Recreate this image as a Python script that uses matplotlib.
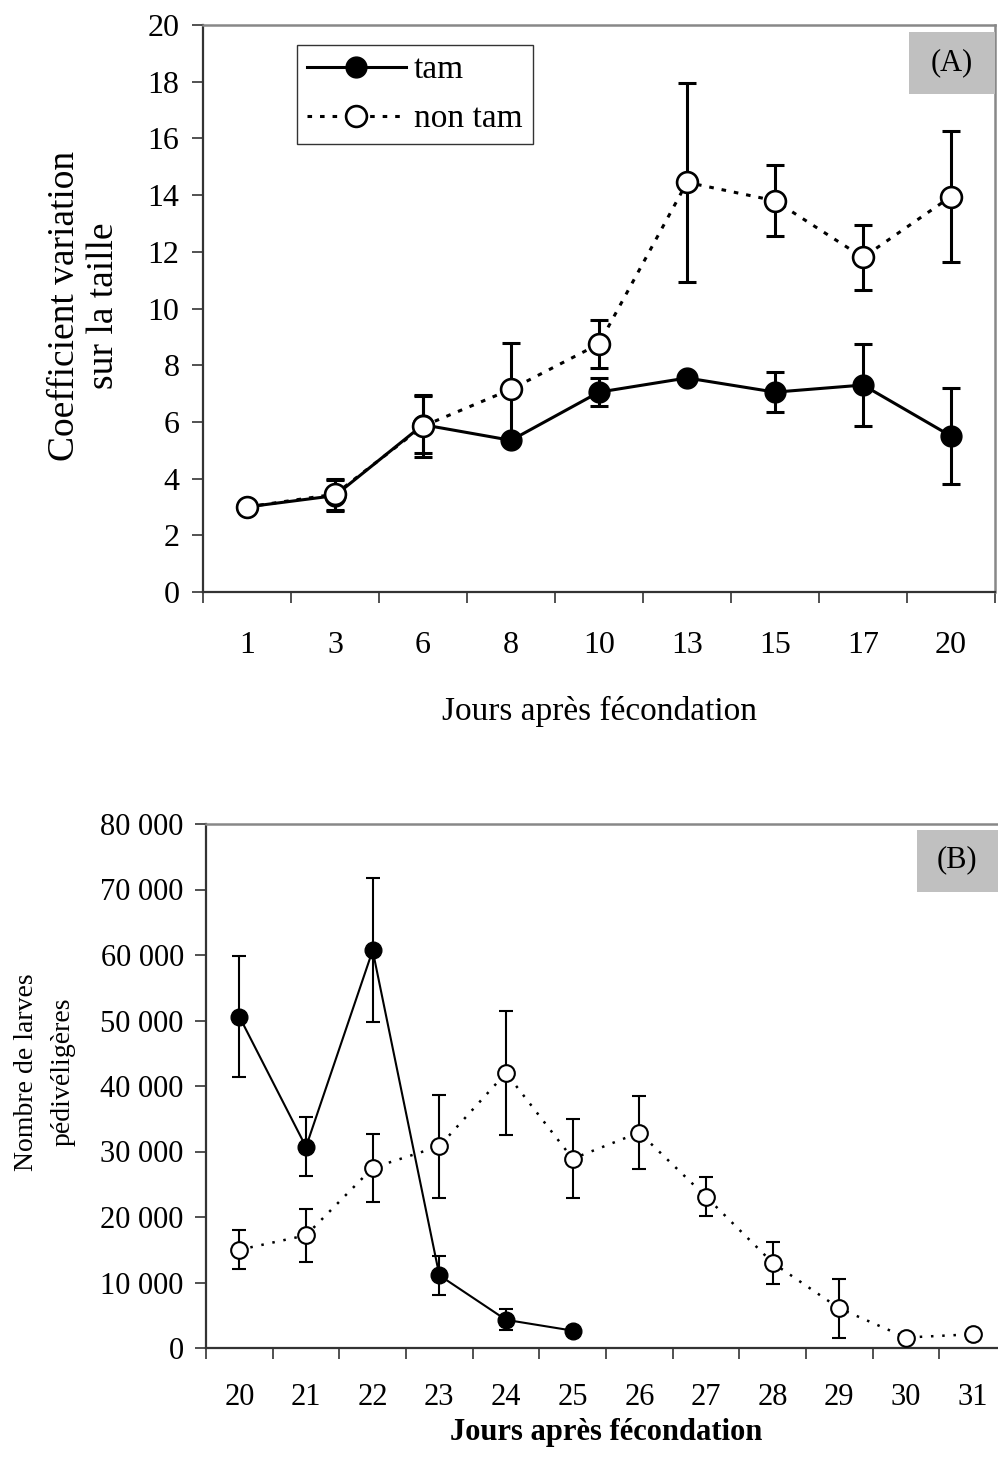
import numpy as np
import matplotlib.pyplot as plt
from matplotlib.patches import Rectangle
from matplotlib.ticker import FuncFormatter

plt.rcParams['font.family'] = ['Liberation Serif', 'DejaVu Serif']

# Panel A: coefficient of variation of size
days_a = ['1', '3', '6', '8', '10', '13', '15', '17', '20']
tam_a = [3.0, 3.4, 5.9, 5.35, 7.05, 7.55, 7.05, 7.3, 5.5]
tam_a_err = [0.1, 0.55, 1.0, 0.0, 0.5, 0.0, 0.7, 1.45, 1.7]
non_a = [3.0, 3.45, 5.85, 7.15, 8.75, 14.45, 13.8, 11.8, 13.95]
non_a_err = [0.0, 0.55, 1.1, 1.65, 0.85, 3.5, 1.25, 1.15, 2.3]

# Panel B: number of pediveliger larvae
days_b = ['20', '21', '22', '23', '24', '25', '26', '27', '28', '29', '30', '31']
tam_b = [50600, 30700, 60700, 11100, 4300, 2650]
tam_b_err = [9200, 4500, 11000, 3000, 1600, 0]
non_b = [15000, 17200, 27500, 30800, 42000, 28900, 32900, 23100, 13000, 6050, 1600, 2100]
non_b_err = [3000, 4000, 5200, 7900, 9500, 6000, 5600, 3000, 3200, 4500, 0, 0]

W, H = 998, 1473
fig = plt.figure(figsize=(W / 100, H / 100), dpi=100)
ax1 = fig.add_axes([203 / W, (H - 592) / H, 792 / W, 567 / H])
ax2 = fig.add_axes([206 / W, (H - 1348) / H, 800 / W, 524 / H])


def errbars(ax, x, y, e, lw, cap):
    x, y, e = np.asarray(x), np.asarray(y, float), np.asarray(e, float)
    m = e > 0
    ax.errorbar(x[m], y[m], yerr=e[m], fmt='none', ecolor='black',
                elinewidth=lw, capsize=cap, capthick=lw, zorder=2)


def style_axes(ax, n, xpad, ypad, size):
    ax.set_xlim(-0.5, n - 0.5)
    ax.set_xticks(np.arange(n))
    ax.set_xticks(np.arange(n + 1) - 0.5, minor=True)
    ax.tick_params(axis='x', which='major', length=0, pad=xpad, labelsize=size)
    ax.tick_params(axis='x', which='minor', length=8, width=1.2,
                   direction='out', color='#333333')
    ax.tick_params(axis='y', length=8, width=1.2, direction='out',
                   color='#333333', pad=ypad, labelsize=size)
    for s in ['top', 'right']:
        ax.spines[s].set_color('#888888')
        ax.spines[s].set_linewidth(1.8)
    for s in ['left', 'bottom']:
        ax.spines[s].set_color('#333333')
        ax.spines[s].set_linewidth(1.6)


# ---- panel A
xa = np.arange(len(days_a))
errbars(ax1, xa, tam_a, tam_a_err, 2.2, 6.5)
errbars(ax1, xa, non_a, non_a_err, 2.2, 6.5)
l1, = ax1.plot(xa, tam_a, color='black', lw=2.2, marker='o', ms=15,
               mfc='black', mec='black', zorder=3)
l2, = ax1.plot(xa, non_a, color='black', lw=2.2, ls=(0, (1.5, 2.6)),
               marker='o', ms=15, mfc='white', mec='black', mew=1.9, zorder=4)
style_axes(ax1, len(days_a), 28, 9, 23)
ax1.set_xticklabels(days_a)
ax1.set_ylim(0, 20)
ax1.set_yticks(np.arange(0, 21, 2))
ax1.set_ylabel('Coefficient variation\nsur la taille', fontsize=27,
               linespacing=1.15)
ax1.yaxis.set_label_coords(-0.104, 0.505)
ax1.set_xlabel('Jours après fécondation', fontsize=24)
ax1.xaxis.set_label_coords(0.5, -0.184)
leg = ax1.legend([l1, l2], ['tam', 'non tam'], loc='upper left',
                 bbox_to_anchor=(0.119, 0.965), borderaxespad=0,
                 fancybox=False, edgecolor='#333333', framealpha=1,
                 fontsize=24, handlelength=2.95, handletextpad=0.25,
                 labelspacing=0.55, borderpad=0.3)
leg.get_frame().set_linewidth(1.0)
ax1.add_patch(Rectangle((0.891, 0.878), 0.109, 0.11, transform=ax1.transAxes,
                        facecolor='#c0c0c0', edgecolor='none', clip_on=False,
                        zorder=5))
ax1.text(0.946, 0.933, '(A)', transform=ax1.transAxes, ha='center',
         va='center', fontsize=22, zorder=6)

# ---- panel B
xb = np.arange(len(days_b))
xt = xb[:len(tam_b)]
errbars(ax2, xt, tam_b, tam_b_err, 1.5, 4.7)
errbars(ax2, xb, non_b, non_b_err, 1.5, 4.7)
ax2.plot(xt, tam_b, color='black', lw=1.5, marker='o', ms=12,
         mfc='black', mec='black', zorder=3)
ax2.plot(xb, non_b, color='black', lw=1.8, ls=(0, (1, 3.5)),
         marker='o', ms=12, mfc='white', mec='black', mew=1.5, zorder=4)
style_axes(ax2, len(days_b), 25, 8, 22)
ax2.set_xticklabels(days_b)
ax2.set_ylim(0, 80000)
ax2.set_yticks(np.arange(0, 80001, 10000))
ax2.yaxis.set_major_formatter(FuncFormatter(lambda v, _: f'{v:,.0f}'.replace(',', ' ')))
ax2.set_ylabel('Nombre de larves\npédivéligères', fontsize=20, linespacing=1.6)
ax2.yaxis.set_label_coords(-0.163, 0.527)
ax2.set_xlabel('Jours après fécondation', fontsize=22, fontweight='bold')
ax2.xaxis.set_label_coords(0.5, -0.133)
ax2.add_patch(Rectangle((0.889, 0.870), 0.12, 0.119, transform=ax2.transAxes,
                        facecolor='#c0c0c0', edgecolor='none', clip_on=False,
                        zorder=5))
ax2.text(0.939, 0.931, '(B)', transform=ax2.transAxes, ha='center',
         va='center', fontsize=22, zorder=6)

fig.savefig('out.png', dpi=100)
